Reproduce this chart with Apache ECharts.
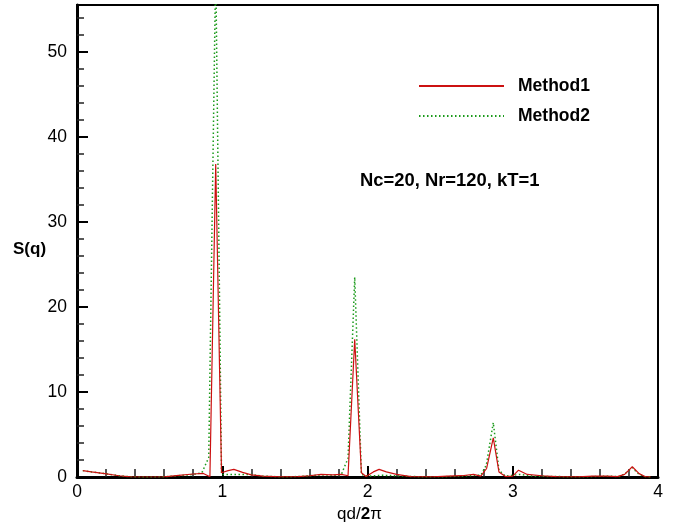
<!DOCTYPE html>
<html>
<head>
<meta charset="utf-8">
<script src="https://cdn.jsdelivr.net/npm/echarts@6/dist/echarts.min.js"></script>
<style>html,body{margin:0;padding:0;background:#fff}#c{width:673px;height:528px}</style>
</head>
<body>
<div id="c"></div>
<script>
const seriesNames = ['Method1', 'Method2'];
const method1 = [[0.04,0.75],[0.10,0.6],[0.19,0.4],[0.29,0.15],[0.37,0.02],[0.48,0],[0.6,0.02],[0.7,0.2],[0.8,0.35],[0.87,0.42],[0.915,0.02],[0.955,36.8],[0.995,0.5],[1.04,0.75],[1.08,0.9],[1.14,0.55],[1.2,0.25],[1.28,0.1],[1.4,0.02],[1.52,0.05],[1.6,0.15],[1.68,0.3],[1.76,0.25],[1.82,0.3],[1.866,0.15],[1.912,16.2],[1.958,0.5],[1.99,0.05],[2.04,0.6],[2.08,0.9],[2.13,0.6],[2.2,0.3],[2.3,0.05],[2.45,0.02],[2.55,0.1],[2.65,0.15],[2.73,0.3],[2.78,0.1],[2.82,1.0],[2.866,4.6],[2.905,0.6],[2.95,0.05],[3.0,0.1],[3.04,0.8],[3.1,0.3],[3.2,0.15],[3.3,0.05],[3.45,0.02],[3.55,0.1],[3.65,0.1],[3.72,0.05],[3.77,0.3],[3.823,1.2],[3.87,0.4],[3.91,0.05],[3.95,0]];
const method2 = [[0.04,0.75],[0.10,0.6],[0.19,0.4],[0.29,0.15],[0.37,0.02],[0.48,0],[0.6,0.02],[0.7,0.15],[0.8,0.3],[0.86,0.5],[0.907,2.3],[0.955,60],[0.995,0.3],[1.1,0.3],[1.2,0.3],[1.28,0.1],[1.4,0.02],[1.52,0.05],[1.6,0.15],[1.7,0.25],[1.78,0.2],[1.82,0.3],[1.866,2.2],[1.912,23.5],[1.958,0.3],[2.0,0.1],[2.1,0.2],[2.2,0.15],[2.3,0.05],[2.5,0.02],[2.65,0.1],[2.75,0.2],[2.78,0.2],[2.818,1.4],[2.866,6.4],[2.905,0.8],[2.95,0.1],[3.05,0.3],[3.15,0.1],[3.3,0.05],[3.5,0.02],[3.65,0.1],[3.74,0.05],[3.78,0.5],[3.823,1.1],[3.87,0.3],[3.91,0.05],[3.95,0]];
const xTicks = [0, 1, 2, 3, 4];
const yTicks = [0, 10, 20, 30, 40, 50];
const annotation = 'Nc=20, Nr=120, kT=1';

const FONT = '"Liberation Sans", Arial, Helvetica, sans-serif';
const chart = echarts.init(document.getElementById('c'), null, {renderer: 'canvas'});
chart.setOption({
  animation: false,
  backgroundColor: '#fff',
  grid: {left: 77, right: 15, top: 5, bottom: 46, show: true, borderColor: '#000', borderWidth: 2, backgroundColor: 'transparent'},
  legend: {
    data: seriesNames,
    orient: 'vertical',
    left: 418, top: 77, padding: 0,
    itemWidth: 85, itemHeight: 20, itemGap: 12,
    itemStyle: {opacity: 0},
    textStyle: {fontFamily: FONT, fontWeight: 'bold', fontSize: 17.5, color: '#000', padding: [0,0,0,9]}
  },
  xAxis: {
    type: 'value', min: xTicks[0], max: xTicks[xTicks.length-1], interval: 1,
    name: '{a|qd/}{b|2}{a|π}', nameLocation: 'middle', nameGap: 29,
    nameTextStyle: {padding: [0, 16, 0, 0], rich: {a: {fontFamily: FONT, fontSize: 17, color: '#000'}, b: {fontFamily: FONT, fontSize: 17, fontWeight: 'bold', color: '#000'}}},
    axisLine: {lineStyle: {color: '#000', width: 3}},
    axisTick: {inside: true, length: 11, lineStyle: {color: '#000', width: 2}},
    minorTick: {show: true, splitNumber: 5, length: 8, lineStyle: {color: '#222', width: 1.5}},
    axisLabel: {fontFamily: FONT, fontSize: 17.5, color: '#000', margin: 6, formatter: v => xTicks.includes(v) ? String(v) : ''},
    splitLine: {show: false}
  },
  yAxis: {
    type: 'value', min: 0, max: 55.5, interval: 10,
    axisLine: {lineStyle: {color: '#000', width: 3}},
    axisTick: {inside: true, length: 11, lineStyle: {color: '#000', width: 2}},
    minorTick: {show: true, splitNumber: 5, length: 7, lineStyle: {color: '#222', width: 1.5}},
    axisLabel: {fontFamily: FONT, fontSize: 17.5, color: '#000', margin: 10, showMaxLabel: false, formatter: v => yTicks.includes(v) ? String(v) : ''},
    splitLine: {show: false}
  },
  graphic: [
    {type: 'text', left: 13, top: 241, style: {text: 'S(q)', font: 'bold 17px ' + FONT, fill: '#000'}},
    {type: 'text', left: 360, top: 172, style: {text: annotation, font: 'bold 18.4px ' + FONT, fill: '#000'}}
  ],
  series: [
    {name: seriesNames[0], type: 'line', data: method1, symbol: 'none', clip: true, lineStyle: {color: '#cc1111', width: 1.2}, itemStyle: {color: '#cc1111'}, z: 3},
    {name: seriesNames[1], type: 'line', data: method2, symbol: 'none', clip: true, lineStyle: {color: '#1a9a1a', width: 1.5, type: [1.5, 2.5]}, itemStyle: {color: '#1a9a1a'}, z: 2}
  ]
});
</script>
</body>
</html>
